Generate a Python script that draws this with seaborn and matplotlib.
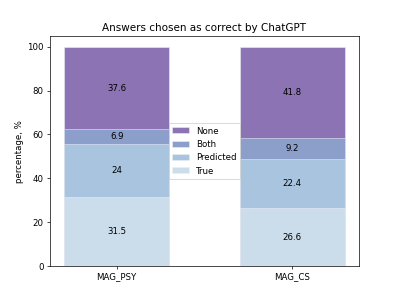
import numpy as np
import seaborn as sns
import matplotlib
matplotlib.use("Agg")
import matplotlib.pyplot as plt

# data
datasets = ["MAG_PSY", "MAG_CS"]
answer_types = ["True", "Predicted", "Both", "None"]
true_vals = [31.5, 26.6]
predicted_vals = [24, 22.4]
both_vals = [6.9, 9.2]
none_vals = [37.6, 41.8]

colors = {
    "True": "#cbdcea",
    "Predicted": "#a8c4df",
    "Both": "#8c9fcb",
    "None": "#8c74b4",
}

series = [true_vals, predicted_vals, both_vals, none_vals]
tops = np.cumsum(np.array(series), axis=0)
bottoms = tops - np.array(series)

fig, ax = plt.subplots(figsize=(6.4, 4.8), dpi=399 / 6.4)

# draw cumulative bars from the tallest down so each stack segment shows
for i in reversed(range(len(answer_types))):
    sns.barplot(x=datasets, y=tops[i], color=colors[answer_types[i]],
                saturation=1, width=0.6, edgecolor="#eef0f6", linewidth=0.6,
                label=answer_types[i], ax=ax)

# segment labels
for i in range(len(answer_types)):
    for j in range(len(datasets)):
        mid = bottoms[i, j] + series[i][j] / 2
        ax.text(j, mid, f"{series[i][j]:g}", ha="center", va="center", fontsize=10)

ax.set_xlim(-0.38, 1.38)
ax.set_ylim(0, 105)
ax.set_ylabel("percentage, %")
ax.set_title("Answers chosen as correct by ChatGPT")
ax.legend(loc="center")

fig.savefig("out.png", dpi=399 / 6.4)
